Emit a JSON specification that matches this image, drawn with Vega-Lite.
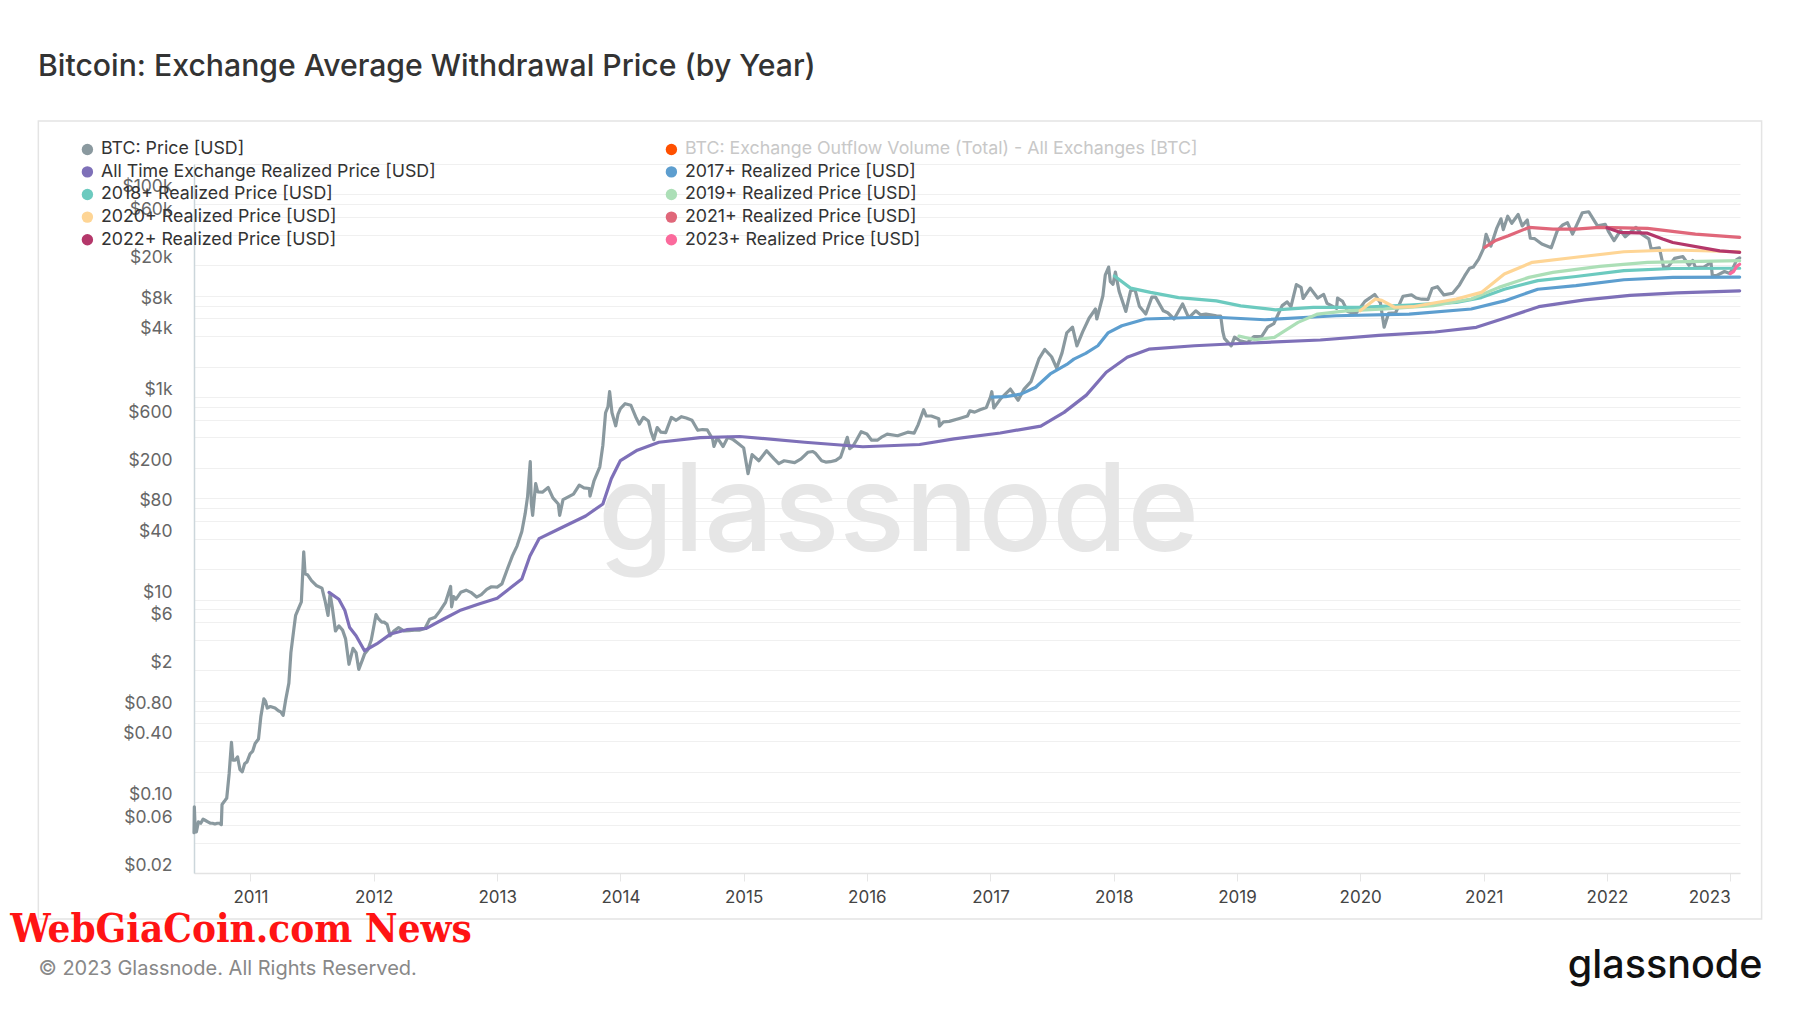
{
"$schema":"https://vega.github.io/schema/vega-lite/v6.json",
"autosize":"none",
"width":1546,"height":709,
"padding":{"left":194,"top":164,"right":60,"bottom":140},
"background":"#ffffff",
"config":{"view":{"stroke":null},"font":"Inter"},
"title":{"text":"Bitcoin: Exchange Average Withdrawal Price (by Year)","anchor":"start","frame":"group","dx":-156,"offset":23.6,"baseline":"middle","fontSize":30.2,"font":"Inter","fontWeight":500,"color":"#333333"},
"datasets":{
"series":[
{"s":"p","d":"2010-07-18","v":0.05},{"s":"p","d":"2010-07-19","v":0.09},{"s":"p","d":"2010-07-21","v":0.06},{"s":"p","d":"2010-07-25","v":0.051},{"s":"p","d":"2010-07-31","v":0.064},{"s":"p","d":"2010-08-07","v":0.062},{"s":"p","d":"2010-08-14","v":0.068},{"s":"p","d":"2010-08-21","v":0.066},{"s":"p","d":"2010-08-28","v":0.064},{"s":"p","d":"2010-09-04","v":0.062},{"s":"p","d":"2010-09-11","v":0.062},{"s":"p","d":"2010-09-18","v":0.061},{"s":"p","d":"2010-09-25","v":0.062},{"s":"p","d":"2010-10-02","v":0.062},{"s":"p","d":"2010-10-07","v":0.06},{"s":"p","d":"2010-10-09","v":0.095},{"s":"p","d":"2010-10-16","v":0.102},{"s":"p","d":"2010-10-23","v":0.11},{"s":"p","d":"2010-10-30","v":0.19},{"s":"p","d":"2010-11-06","v":0.39},{"s":"p","d":"2010-11-10","v":0.26},{"s":"p","d":"2010-11-17","v":0.26},{"s":"p","d":"2010-11-24","v":0.28},{"s":"p","d":"2010-12-01","v":0.21},{"s":"p","d":"2010-12-08","v":0.2},{"s":"p","d":"2010-12-15","v":0.24},{"s":"p","d":"2010-12-22","v":0.25},{"s":"p","d":"2010-12-31","v":0.3},
{"s":"p","d":"2011-01-08","v":0.32},{"s":"p","d":"2011-01-15","v":0.38},{"s":"p","d":"2011-01-25","v":0.42},{"s":"p","d":"2011-02-01","v":0.7},{"s":"p","d":"2011-02-10","v":1.05},{"s":"p","d":"2011-02-15","v":0.99},{"s":"p","d":"2011-02-20","v":0.85},{"s":"p","d":"2011-03-01","v":0.88},{"s":"p","d":"2011-03-15","v":0.85},{"s":"p","d":"2011-03-25","v":0.8},{"s":"p","d":"2011-04-01","v":0.78},{"s":"p","d":"2011-04-08","v":0.72},{"s":"p","d":"2011-04-15","v":1.0},{"s":"p","d":"2011-04-25","v":1.5},{"s":"p","d":"2011-05-01","v":3.0},{"s":"p","d":"2011-05-10","v":5.2},{"s":"p","d":"2011-05-15","v":7.0},{"s":"p","d":"2011-05-25","v":8.4},{"s":"p","d":"2011-06-01","v":9.5},{"s":"p","d":"2011-06-08","v":29.6},{"s":"p","d":"2011-06-12","v":18},{"s":"p","d":"2011-06-20","v":17.5},{"s":"p","d":"2011-07-01","v":15.4},{"s":"p","d":"2011-07-15","v":13.8},{"s":"p","d":"2011-08-01","v":13.0},{"s":"p","d":"2011-08-10","v":9.8},{"s":"p","d":"2011-08-19","v":7.0},{"s":"p","d":"2011-08-25","v":11.4},{"s":"p","d":"2011-09-01","v":8.2},{"s":"p","d":"2011-09-10","v":4.9},{"s":"p","d":"2011-09-20","v":5.5},{"s":"p","d":"2011-10-01","v":5.0},{"s":"p","d":"2011-10-10","v":4.1},{"s":"p","d":"2011-10-20","v":2.3},{"s":"p","d":"2011-11-01","v":3.3},{"s":"p","d":"2011-11-10","v":3.0},{"s":"p","d":"2011-11-18","v":2.05},{"s":"p","d":"2011-11-28","v":2.5},{"s":"p","d":"2011-12-05","v":2.9},{"s":"p","d":"2011-12-15","v":3.2},{"s":"p","d":"2011-12-25","v":4.0},
{"s":"p","d":"2012-01-01","v":5.3},{"s":"p","d":"2012-01-08","v":7.1},{"s":"p","d":"2012-01-15","v":6.5},{"s":"p","d":"2012-01-25","v":6.0},{"s":"p","d":"2012-02-01","v":6.0},{"s":"p","d":"2012-02-10","v":5.7},{"s":"p","d":"2012-02-19","v":4.4},{"s":"p","d":"2012-03-01","v":4.9},{"s":"p","d":"2012-03-15","v":5.3},{"s":"p","d":"2012-04-01","v":4.9},{"s":"p","d":"2012-04-15","v":4.95},{"s":"p","d":"2012-05-01","v":5.0},{"s":"p","d":"2012-05-15","v":5.0},{"s":"p","d":"2012-06-01","v":5.2},{"s":"p","d":"2012-06-15","v":6.4},{"s":"p","d":"2012-07-01","v":6.7},{"s":"p","d":"2012-07-15","v":7.7},{"s":"p","d":"2012-08-01","v":9.4},{"s":"p","d":"2012-08-16","v":13.5},{"s":"p","d":"2012-08-19","v":8.5},{"s":"p","d":"2012-08-25","v":10.7},{"s":"p","d":"2012-09-01","v":10.1},{"s":"p","d":"2012-09-15","v":11.8},{"s":"p","d":"2012-10-01","v":12.4},{"s":"p","d":"2012-10-15","v":11.8},{"s":"p","d":"2012-11-01","v":10.6},{"s":"p","d":"2012-11-15","v":11.2},{"s":"p","d":"2012-12-01","v":12.6},{"s":"p","d":"2012-12-15","v":13.4},
{"s":"p","d":"2013-01-01","v":13.3},{"s":"p","d":"2013-01-15","v":14.3},{"s":"p","d":"2013-02-01","v":20.4},{"s":"p","d":"2013-02-15","v":27},{"s":"p","d":"2013-03-01","v":34},{"s":"p","d":"2013-03-15","v":47},{"s":"p","d":"2013-03-25","v":71},{"s":"p","d":"2013-04-01","v":104},{"s":"p","d":"2013-04-09","v":230},{"s":"p","d":"2013-04-12","v":90},{"s":"p","d":"2013-04-16","v":68},{"s":"p","d":"2013-04-25","v":140},{"s":"p","d":"2013-05-01","v":116},{"s":"p","d":"2013-05-15","v":115},{"s":"p","d":"2013-06-01","v":128},{"s":"p","d":"2013-06-15","v":101},{"s":"p","d":"2013-07-01","v":88},{"s":"p","d":"2013-07-05","v":68},{"s":"p","d":"2013-07-15","v":97},{"s":"p","d":"2013-08-01","v":104},{"s":"p","d":"2013-08-15","v":110},{"s":"p","d":"2013-09-01","v":135},{"s":"p","d":"2013-09-15","v":127},{"s":"p","d":"2013-10-01","v":125},{"s":"p","d":"2013-10-03","v":105},{"s":"p","d":"2013-10-15","v":150},{"s":"p","d":"2013-11-01","v":205},{"s":"p","d":"2013-11-10","v":335},{"s":"p","d":"2013-11-18","v":700},{"s":"p","d":"2013-11-25","v":800},{"s":"p","d":"2013-11-30","v":1130},{"s":"p","d":"2013-12-07","v":700},{"s":"p","d":"2013-12-18","v":520},{"s":"p","d":"2013-12-25","v":680},
{"s":"p","d":"2014-01-01","v":770},{"s":"p","d":"2014-01-15","v":860},{"s":"p","d":"2014-02-01","v":830},{"s":"p","d":"2014-02-15","v":640},{"s":"p","d":"2014-02-26","v":540},{"s":"p","d":"2014-03-10","v":630},{"s":"p","d":"2014-03-25","v":580},{"s":"p","d":"2014-04-01","v":460},{"s":"p","d":"2014-04-10","v":380},{"s":"p","d":"2014-04-20","v":500},{"s":"p","d":"2014-05-01","v":450},{"s":"p","d":"2014-05-15","v":445},{"s":"p","d":"2014-06-01","v":630},{"s":"p","d":"2014-06-15","v":590},{"s":"p","d":"2014-07-01","v":640},{"s":"p","d":"2014-07-15","v":620},{"s":"p","d":"2014-08-01","v":590},{"s":"p","d":"2014-08-18","v":470},{"s":"p","d":"2014-09-01","v":478},{"s":"p","d":"2014-09-15","v":475},{"s":"p","d":"2014-10-01","v":385},{"s":"p","d":"2014-10-05","v":325},{"s":"p","d":"2014-10-15","v":395},{"s":"p","d":"2014-11-01","v":325},{"s":"p","d":"2014-11-15","v":400},{"s":"p","d":"2014-12-01","v":380},{"s":"p","d":"2014-12-15","v":350},
{"s":"p","d":"2015-01-01","v":315},{"s":"p","d":"2015-01-14","v":175},{"s":"p","d":"2015-01-26","v":270},{"s":"p","d":"2015-02-15","v":235},{"s":"p","d":"2015-03-10","v":295},{"s":"p","d":"2015-04-01","v":245},{"s":"p","d":"2015-04-15","v":220},{"s":"p","d":"2015-05-01","v":235},{"s":"p","d":"2015-06-01","v":225},{"s":"p","d":"2015-06-20","v":245},{"s":"p","d":"2015-07-10","v":285},{"s":"p","d":"2015-07-25","v":290},{"s":"p","d":"2015-08-01","v":280},{"s":"p","d":"2015-08-20","v":235},{"s":"p","d":"2015-09-01","v":228},{"s":"p","d":"2015-09-15","v":230},{"s":"p","d":"2015-10-01","v":237},{"s":"p","d":"2015-10-15","v":255},{"s":"p","d":"2015-11-04","v":400},{"s":"p","d":"2015-11-11","v":310},{"s":"p","d":"2015-11-20","v":325},{"s":"p","d":"2015-12-01","v":375},{"s":"p","d":"2015-12-15","v":455},
{"s":"p","d":"2016-01-01","v":432},{"s":"p","d":"2016-01-15","v":375},{"s":"p","d":"2016-02-01","v":375},{"s":"p","d":"2016-02-15","v":405},{"s":"p","d":"2016-03-01","v":430},{"s":"p","d":"2016-04-01","v":415},{"s":"p","d":"2016-05-01","v":450},{"s":"p","d":"2016-05-20","v":440},{"s":"p","d":"2016-06-01","v":535},{"s":"p","d":"2016-06-17","v":750},{"s":"p","d":"2016-06-25","v":650},{"s":"p","d":"2016-07-10","v":650},{"s":"p","d":"2016-08-01","v":610},{"s":"p","d":"2016-08-03","v":515},{"s":"p","d":"2016-08-15","v":570},{"s":"p","d":"2016-09-01","v":575},{"s":"p","d":"2016-10-01","v":615},{"s":"p","d":"2016-10-25","v":650},{"s":"p","d":"2016-11-01","v":730},{"s":"p","d":"2016-11-15","v":710},{"s":"p","d":"2016-12-01","v":750},{"s":"p","d":"2016-12-20","v":790},
{"s":"p","d":"2017-01-01","v":1000},{"s":"p","d":"2017-01-05","v":1130},{"s":"p","d":"2017-01-11","v":780},{"s":"p","d":"2017-02-01","v":970},{"s":"p","d":"2017-03-01","v":1200},{"s":"p","d":"2017-03-24","v":930},{"s":"p","d":"2017-04-10","v":1190},{"s":"p","d":"2017-05-01","v":1420},{"s":"p","d":"2017-05-25","v":2400},{"s":"p","d":"2017-06-11","v":2950},{"s":"p","d":"2017-07-01","v":2500},{"s":"p","d":"2017-07-16","v":1930},{"s":"p","d":"2017-08-01","v":2730},{"s":"p","d":"2017-08-15","v":4300},{"s":"p","d":"2017-09-01","v":4900},{"s":"p","d":"2017-09-14","v":3200},{"s":"p","d":"2017-10-01","v":4400},{"s":"p","d":"2017-10-20","v":6000},{"s":"p","d":"2017-11-08","v":7400},{"s":"p","d":"2017-11-12","v":5900},{"s":"p","d":"2017-11-30","v":10000},{"s":"p","d":"2017-12-07","v":16000},{"s":"p","d":"2017-12-17","v":19200},{"s":"p","d":"2017-12-22","v":13800},{"s":"p","d":"2017-12-30","v":13000},
{"s":"p","d":"2018-01-06","v":17100},{"s":"p","d":"2018-01-17","v":11100},{"s":"p","d":"2018-02-06","v":7000},{"s":"p","d":"2018-02-20","v":11200},{"s":"p","d":"2018-03-05","v":11500},{"s":"p","d":"2018-03-18","v":7900},{"s":"p","d":"2018-04-06","v":6600},{"s":"p","d":"2018-04-24","v":9700},{"s":"p","d":"2018-05-05","v":9700},{"s":"p","d":"2018-05-28","v":7100},{"s":"p","d":"2018-06-10","v":6800},{"s":"p","d":"2018-06-29","v":5900},{"s":"p","d":"2018-07-24","v":8300},{"s":"p","d":"2018-08-10","v":6200},{"s":"p","d":"2018-08-14","v":6200},{"s":"p","d":"2018-09-01","v":7100},{"s":"p","d":"2018-09-15","v":6500},{"s":"p","d":"2018-10-01","v":6600},{"s":"p","d":"2018-10-15","v":6500},{"s":"p","d":"2018-11-01","v":6350},{"s":"p","d":"2018-11-14","v":6300},{"s":"p","d":"2018-11-20","v":4450},{"s":"p","d":"2018-11-25","v":3800},{"s":"p","d":"2018-12-15","v":3200},{"s":"p","d":"2018-12-25","v":3900},
{"s":"p","d":"2019-01-10","v":3600},{"s":"p","d":"2019-02-01","v":3450},{"s":"p","d":"2019-02-20","v":3950},{"s":"p","d":"2019-03-15","v":3950},{"s":"p","d":"2019-04-02","v":4900},{"s":"p","d":"2019-04-20","v":5300},{"s":"p","d":"2019-05-15","v":8000},{"s":"p","d":"2019-05-30","v":8700},{"s":"p","d":"2019-06-10","v":7800},{"s":"p","d":"2019-06-26","v":12900},{"s":"p","d":"2019-07-10","v":12100},{"s":"p","d":"2019-07-16","v":9400},{"s":"p","d":"2019-08-06","v":11900},{"s":"p","d":"2019-08-28","v":9500},{"s":"p","d":"2019-09-15","v":10300},{"s":"p","d":"2019-09-25","v":8400},{"s":"p","d":"2019-10-23","v":7500},{"s":"p","d":"2019-10-26","v":9500},{"s":"p","d":"2019-11-10","v":8800},{"s":"p","d":"2019-11-25","v":7000},{"s":"p","d":"2019-12-18","v":6600},
{"s":"p","d":"2020-01-15","v":8800},{"s":"p","d":"2020-02-13","v":10300},{"s":"p","d":"2020-03-01","v":8500},{"s":"p","d":"2020-03-12","v":4900},{"s":"p","d":"2020-03-25","v":6700},{"s":"p","d":"2020-04-15","v":6800},{"s":"p","d":"2020-05-07","v":9900},{"s":"p","d":"2020-06-01","v":10200},{"s":"p","d":"2020-06-15","v":9500},{"s":"p","d":"2020-07-01","v":9250},{"s":"p","d":"2020-07-20","v":9200},{"s":"p","d":"2020-08-01","v":11800},{"s":"p","d":"2020-08-17","v":12300},{"s":"p","d":"2020-09-05","v":10200},{"s":"p","d":"2020-10-01","v":10600},{"s":"p","d":"2020-10-21","v":12800},{"s":"p","d":"2020-11-05","v":15600},{"s":"p","d":"2020-11-20","v":18700},{"s":"p","d":"2020-12-01","v":19200},{"s":"p","d":"2020-12-17","v":23000},{"s":"p","d":"2020-12-31","v":29000},
{"s":"p","d":"2021-01-08","v":40500},{"s":"p","d":"2021-01-22","v":30900},{"s":"p","d":"2021-02-08","v":46000},{"s":"p","d":"2021-02-21","v":57500},{"s":"p","d":"2021-02-28","v":45000},{"s":"p","d":"2021-03-13","v":61000},{"s":"p","d":"2021-03-25","v":52000},{"s":"p","d":"2021-04-13","v":63500},{"s":"p","d":"2021-04-25","v":49000},{"s":"p","d":"2021-05-10","v":56000},{"s":"p","d":"2021-05-19","v":37000},{"s":"p","d":"2021-06-01","v":36600},{"s":"p","d":"2021-06-22","v":32500},{"s":"p","d":"2021-07-20","v":29800},{"s":"p","d":"2021-08-07","v":44000},{"s":"p","d":"2021-08-23","v":50000},{"s":"p","d":"2021-09-06","v":52700},{"s":"p","d":"2021-09-21","v":40600},{"s":"p","d":"2021-10-20","v":66000},{"s":"p","d":"2021-11-08","v":67500},{"s":"p","d":"2021-11-26","v":54000},{"s":"p","d":"2021-12-04","v":49000},{"s":"p","d":"2021-12-27","v":50700},
{"s":"p","d":"2022-01-05","v":43500},{"s":"p","d":"2022-01-22","v":35000},{"s":"p","d":"2022-02-10","v":44000},{"s":"p","d":"2022-02-24","v":38300},{"s":"p","d":"2022-03-28","v":47400},{"s":"p","d":"2022-04-15","v":40400},{"s":"p","d":"2022-05-05","v":36500},{"s":"p","d":"2022-05-12","v":28900},{"s":"p","d":"2022-06-05","v":29800},{"s":"p","d":"2022-06-18","v":19000},{"s":"p","d":"2022-07-01","v":19300},{"s":"p","d":"2022-07-20","v":23400},{"s":"p","d":"2022-08-14","v":24400},{"s":"p","d":"2022-09-01","v":20000},{"s":"p","d":"2022-09-12","v":22300},{"s":"p","d":"2022-09-20","v":19000},{"s":"p","d":"2022-10-15","v":19200},{"s":"p","d":"2022-11-05","v":21300},{"s":"p","d":"2022-11-09","v":15900},{"s":"p","d":"2022-11-21","v":15800},{"s":"p","d":"2022-12-15","v":17350},{"s":"p","d":"2022-12-31","v":16550},{"s":"p","d":"2023-01-13","v":19900},{"s":"p","d":"2023-01-20","v":22700},{"s":"p","d":"2023-01-29","v":23700},
{"s":"all","d":"2011-08-22","v":11.8},{"s":"all","d":"2011-09-20","v":10.1},{"s":"all","d":"2011-10-08","v":7.8},{"s":"all","d":"2011-10-22","v":5.3},{"s":"all","d":"2011-11-10","v":4.4},{"s":"all","d":"2011-12-05","v":3.13},{"s":"all","d":"2012-01-10","v":3.65},{"s":"all","d":"2012-02-20","v":4.57},{"s":"all","d":"2012-04-08","v":5.05},{"s":"all","d":"2012-06-05","v":5.2},{"s":"all","d":"2012-07-25","v":6.4},{"s":"all","d":"2012-09-12","v":7.8},{"s":"all","d":"2012-11-10","v":9.1},{"s":"all","d":"2013-01-01","v":10.3},{"s":"all","d":"2013-03-15","v":16},{"s":"all","d":"2013-04-08","v":27},{"s":"all","d":"2013-05-05","v":40},{"s":"all","d":"2013-06-28","v":49},{"s":"all","d":"2013-09-20","v":67},{"s":"all","d":"2013-11-10","v":88},{"s":"all","d":"2013-12-05","v":156},{"s":"all","d":"2014-01-01","v":236},{"s":"all","d":"2014-02-20","v":299},{"s":"all","d":"2014-04-25","v":358},{"s":"all","d":"2014-08-25","v":398},{"s":"all","d":"2014-12-20","v":408},{"s":"all","d":"2015-07-01","v":358},{"s":"all","d":"2015-12-20","v":323},{"s":"all","d":"2016-06-05","v":340},{"s":"all","d":"2016-09-15","v":387},{"s":"all","d":"2017-01-30","v":442},{"s":"all","d":"2017-05-30","v":516},{"s":"all","d":"2017-08-07","v":706},{"s":"all","d":"2017-10-12","v":1045},{"s":"all","d":"2017-12-10","v":1760},{"s":"all","d":"2018-02-10","v":2470},{"s":"all","d":"2018-04-15","v":2970},{"s":"all","d":"2018-08-28","v":3210},{"s":"all","d":"2019-01-10","v":3380},{"s":"all","d":"2019-09-05","v":3660},{"s":"all","d":"2020-02-25","v":4060},{"s":"all","d":"2020-08-10","v":4390},{"s":"all","d":"2020-12-10","v":4880},{"s":"all","d":"2021-03-03","v":6000},{"s":"all","d":"2021-06-13","v":7800},{"s":"all","d":"2021-10-27","v":9120},{"s":"all","d":"2022-03-10","v":10100},{"s":"all","d":"2022-07-27","v":10670},{"s":"all","d":"2023-01-29","v":11200},
{"s":"y17","d":"2017-01-05","v":1000},{"s":"y17","d":"2017-02-15","v":1010},{"s":"y17","d":"2017-04-01","v":1070},{"s":"y17","d":"2017-05-15","v":1250},{"s":"y17","d":"2017-06-27","v":1690},{"s":"y17","d":"2017-08-15","v":2100},{"s":"y17","d":"2017-09-05","v":2370},{"s":"y17","d":"2017-10-10","v":2700},{"s":"y17","d":"2017-11-15","v":3210},{"s":"y17","d":"2017-12-15","v":4300},{"s":"y17","d":"2018-01-25","v":5060},{"s":"y17","d":"2018-04-05","v":5900},{"s":"y17","d":"2018-08-25","v":6100},{"s":"y17","d":"2018-11-15","v":6100},{"s":"y17","d":"2019-03-25","v":5800},{"s":"y17","d":"2019-10-22","v":6350},{"s":"y17","d":"2020-05-25","v":6600},{"s":"y17","d":"2020-11-25","v":7400},{"s":"y17","d":"2021-03-03","v":8900},{"s":"y17","d":"2021-06-10","v":11600},{"s":"y17","d":"2021-10-01","v":12600},{"s":"y17","d":"2022-02-20","v":14400},{"s":"y17","d":"2022-07-15","v":15200},{"s":"y17","d":"2023-01-29","v":15300},
{"s":"y18","d":"2018-01-03","v":15700},{"s":"y18","d":"2018-02-20","v":11900},{"s":"y18","d":"2018-04-20","v":10800},{"s":"y18","d":"2018-07-12","v":9600},{"s":"y18","d":"2018-11-01","v":8900},{"s":"y18","d":"2019-01-12","v":7960},{"s":"y18","d":"2019-04-25","v":7270},{"s":"y18","d":"2019-08-15","v":7680},{"s":"y18","d":"2020-01-01","v":7680},{"s":"y18","d":"2020-05-25","v":8100},{"s":"y18","d":"2020-10-12","v":8600},{"s":"y18","d":"2020-12-25","v":9600},{"s":"y18","d":"2021-03-03","v":11600},{"s":"y18","d":"2021-06-10","v":14100},{"s":"y18","d":"2021-10-01","v":15500},{"s":"y18","d":"2022-02-20","v":17700},{"s":"y18","d":"2022-07-15","v":18600},{"s":"y18","d":"2023-01-29","v":18700},
{"s":"y19","d":"2019-01-07","v":4000},{"s":"y19","d":"2019-02-25","v":3680},{"s":"y19","d":"2019-04-22","v":3880},{"s":"y19","d":"2019-07-01","v":5460},{"s":"y19","d":"2019-08-28","v":6600},{"s":"y19","d":"2019-11-20","v":7100},{"s":"y19","d":"2020-03-15","v":7400},{"s":"y19","d":"2020-08-05","v":8000},{"s":"y19","d":"2020-11-25","v":9300},{"s":"y19","d":"2021-02-15","v":12100},{"s":"y19","d":"2021-05-15","v":15200},{"s":"y19","d":"2021-07-25","v":17000},{"s":"y19","d":"2021-12-10","v":19500},{"s":"y19","d":"2022-05-01","v":21400},{"s":"y19","d":"2023-01-29","v":22200},
{"s":"y20","d":"2020-01-01","v":7100},{"s":"y20","d":"2020-02-15","v":9300},{"s":"y20","d":"2020-03-05","v":9000},{"s":"y20","d":"2020-04-12","v":7700},{"s":"y20","d":"2020-06-05","v":7800},{"s":"y20","d":"2020-10-12","v":9300},{"s":"y20","d":"2020-12-25","v":10800},{"s":"y20","d":"2021-03-03","v":16400},{"s":"y20","d":"2021-05-25","v":21400},{"s":"y20","d":"2021-10-01","v":24000},{"s":"y20","d":"2022-02-20","v":27200},{"s":"y20","d":"2022-07-15","v":28300},{"s":"y20","d":"2023-01-29","v":27200},
{"s":"y21","d":"2021-01-04","v":30100},{"s":"y21","d":"2021-02-03","v":34900},{"s":"y21","d":"2021-03-15","v":39100},{"s":"y21","d":"2021-05-15","v":47300},{"s":"y21","d":"2021-07-25","v":45500},{"s":"y21","d":"2021-10-01","v":45500},{"s":"y21","d":"2021-12-10","v":47300},{"s":"y21","d":"2022-05-01","v":46300},{"s":"y21","d":"2022-09-20","v":40600},{"s":"y21","d":"2023-01-29","v":37800},
{"s":"y22","d":"2022-01-01","v":47000},{"s":"y22","d":"2022-02-08","v":42300},{"s":"y22","d":"2022-05-01","v":41500},{"s":"y22","d":"2022-06-15","v":36300},{"s":"y22","d":"2022-07-15","v":33600},{"s":"y22","d":"2022-12-01","v":27800},{"s":"y22","d":"2023-01-29","v":26800},
{"s":"y23","d":"2023-01-01","v":16600},{"s":"y23","d":"2023-01-10","v":17200},{"s":"y23","d":"2023-01-20","v":19500},{"s":"y23","d":"2023-01-29","v":20500}
]
},
"layer":[
{
"data":{"values":[{}]},
"mark":{"type":"rect","fill":"transparent","stroke":"#e4e4e4","strokeWidth":1.5},
"encoding":{
"x":{"datum":{"year":2009,"month":4,"date":13,"utc":true},"type":"temporal","scale":{"type":"utc","nice":false,"domain":[{"year":2010,"month":7,"date":18,"utc":true},{"year":2023,"month":1,"date":30,"utc":true}]}},
"x2":{"datum":{"year":2023,"month":4,"date":4,"utc":true}},
"y":{"datum":530600,"type":"quantitative","scale":{"type":"log","nice":false,"domain":[0.02,200000]}},
"y2":{"datum":0.00703}
}
},
{
"data":{"values":[{}]},
"mark":{"type":"text","text":"glassnode","font":"Inter","fontSize":122,"fontWeight":500,"fill":"#e6e6e6","align":"center","baseline":"alphabetic"},
"encoding":{
"x":{"datum":{"year":2016,"month":4,"date":4,"utc":true},"type":"temporal","scale":{"type":"utc","nice":false,"domain":[{"year":2010,"month":7,"date":18,"utc":true},{"year":2023,"month":1,"date":30,"utc":true}]}},
"y":{"datum":30,"type":"quantitative","scale":{"type":"log","nice":false,"domain":[0.02,200000]}}
}
},
{
"data":{"name":"series"},
"mark":{"type":"line","strokeWidth":3.2,"strokeJoin":"round","strokeCap":"round"},
"encoding":{
"x":{"field":"d","type":"temporal","scale":{"type":"utc","nice":false,"domain":[{"year":2010,"month":7,"date":18,"utc":true},{"year":2023,"month":1,"date":30,"utc":true}]},
"axis":{"values":[{"year":2011,"month":1,"date":1,"utc":true},{"year":2012,"month":1,"date":1,"utc":true},{"year":2013,"month":1,"date":1,"utc":true},{"year":2014,"month":1,"date":1,"utc":true},{"year":2015,"month":1,"date":1,"utc":true},{"year":2016,"month":1,"date":1,"utc":true},{"year":2017,"month":1,"date":1,"utc":true},{"year":2018,"month":1,"date":1,"utc":true},{"year":2019,"month":1,"date":1,"utc":true},{"year":2020,"month":1,"date":1,"utc":true},{"year":2021,"month":1,"date":1,"utc":true},{"year":2022,"month":1,"date":1,"utc":true},{"year":2023,"month":1,"date":1,"utc":true}],
"format":"%Y","formatType":"utc","labelFlush":15,"labelFontSize":17,"labelColor":"#444444","labelFont":"Inter","labelPadding":8,"ticks":true,"tickSize":8,"tickColor":"#e6e6e6","domain":true,"domainColor":"#e3e3e3","domainWidth":1.5,"grid":false,
"title":"© 2023 Glassnode. All Rights Reserved.","titleX":-156,"titleY":95,"titleAlign":"left","titleAnchor":"start","titleBaseline":"middle","titleFontSize":20,"titleFont":"Inter","titleFontWeight":"normal","titleColor":"#888888"}},
"y":{"field":"v","type":"quantitative","scale":{"type":"log","nice":false,"domain":[0.02,200000]},
"axis":{"values":[0.02,0.04,0.06,0.08,0.1,0.2,0.4,0.6,0.8,1,2,4,6,8,10,20,40,60,80,100,200,400,600,800,1000,2000,4000,6000,8000,10000,20000,40000,60000,80000,100000,200000],
"labelExpr":"datum.value==100000?'$100k':datum.value==60000?'$60k':datum.value==20000?'$20k':datum.value==8000?'$8k':datum.value==4000?'$4k':datum.value==1000?'$1k':datum.value==600?'$600':datum.value==200?'$200':datum.value==80?'$80':datum.value==40?'$40':datum.value==10?'$10':datum.value==6?'$6':datum.value==2?'$2':datum.value==0.8?'$0.80':datum.value==0.4?'$0.40':datum.value==0.1?'$0.10':datum.value==0.06?'$0.06':datum.value==0.02?'$0.02':''",
"labelFontSize":17.5,"labelColor":"#666666","labelFont":"Inter","labelBaseline":"bottom","labelOffset":1.5,"labelPadding":22,"labelOverlap":false,"labelBound":false,"ticks":false,"tickSize":0,"domain":true,"domainColor":"#ccd6db","domainWidth":1.5,"grid":true,"gridColor":"#f0f0f0","gridWidth":1,
"title":"glassnode","titleAngle":0,"titleX":1568,"titleY":813,"titleAlign":"right","titleAnchor":"end","titleBaseline":"alphabetic","titleFont":"Inter","titleFontSize":39.5,"titleFontWeight":500,"titleColor":"#111111"}},
"color":{"field":"s","type":"nominal",
"scale":{"domain":["p","out","all","y17","y18","y19","y20","y21","y22","y23"],"range":["#8a999f","#ff5000","#7e70b8","#5d9ecf","#6ccabf","#acdfb7","#fed595","#e0677a","#b4376a","#fb6a9c"]},
"legend":{"orient":"none","legendX":-115.5,"legendY":-23.6,"direction":"horizontal","columns":2,"columnPadding":226,"rowPadding":3.6,"padding":0,"title":null,"symbolType":"circle","symbolSize":130,"labelOffset":4.6,"labelFontSize":17.8,"labelFont":"Inter","labelColor":"#333333","labelLimit":1000,
"labelExpr":"datum.value=='p'?'BTC: Price [USD]':datum.value=='out'?'BTC: Exchange Outflow Volume (Total) - All Exchanges [BTC]':datum.value=='all'?'All Time Exchange Realized Price [USD]':datum.value=='y17'?'2017+ Realized Price [USD]':datum.value=='y18'?'2018+ Realized Price [USD]':datum.value=='y19'?'2019+ Realized Price [USD]':datum.value=='y20'?'2020+ Realized Price [USD]':datum.value=='y21'?'2021+ Realized Price [USD]':datum.value=='y22'?'2022+ Realized Price [USD]':'2023+ Realized Price [USD]'",
"encode":{"symbols":{"update":{"fill":{"scale":"color","field":"value"},"fillOpacity":{"value":1},"strokeWidth":{"value":0},"opacity":{"value":1}}},"labels":{"update":{"fill":{"signal":"datum.value=='out'?'#c8c8c8':'#333333'"}}}}}}
}
},
{
"data":{"values":[{}]},
"mark":{"type":"text","text":"WebGiaCoin.com News","font":"'DejaVu Serif Condensed', 'Liberation Serif', serif","fontWeight":"bold","fontSize":40,"fill":"#ff1414","align":"left","baseline":"alphabetic"},
"encoding":{
"x":{"datum":{"year":2009,"month":1,"date":20,"utc":true},"type":"temporal","scale":{"type":"utc","nice":false,"domain":[{"year":2010,"month":7,"date":18,"utc":true},{"year":2023,"month":1,"date":30,"utc":true}]}},
"y":{"datum":0.004169,"type":"quantitative","scale":{"type":"log","nice":false,"domain":[0.02,200000]}}
}
}
]
}
